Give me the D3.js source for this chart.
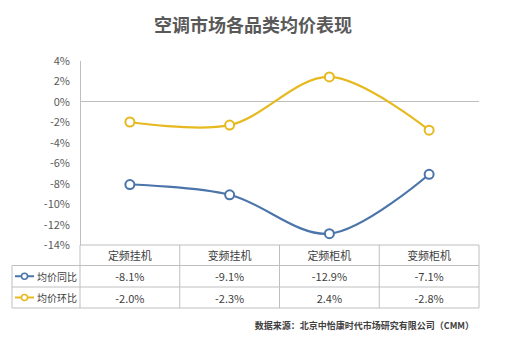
<!DOCTYPE html>
<html><head><meta charset="utf-8">
<script src="https://cdn.jsdelivr.net/npm/d3@7"></script>
<style>body{margin:0;background:#fff}svg{display:block}</style>
</head><body>
<svg id="c" width="506" height="338"></svg>
<script>
const categories = ["定频挂机","变频挂机","定频柜机","变频柜机"];
const seriesNames = ["均价同比","均价环比"];
const yoy = [-8.1,-9.1,-12.9,-7.1];
const mom = [-2.0,-2.3,2.4,-2.8];
const yTicks = [4,2,0,-2,-4,-6,-8,-10,-12,-14];
const colors = ["#4a74aa","#e6b91e"];
const title = "空调市场各品类均价表现";
const source = "数据来源：北京中怡康时代市场研究有限公司（CMM）";

const svg = d3.select("#c");
const font = "'Noto Sans CJK SC','Microsoft YaHei',sans-serif";
const L = 80, R = 479, T = 60.5, B = 245;
const x = d3.scaleBand().domain(categories).range([L,R]);
const y = d3.scaleLinear().domain([-14,4]).range([B,T]);

svg.append("text").attr("x",253).attr("y",32).attr("text-anchor","middle")
  .attr("font-family",font).attr("font-weight","bold").attr("font-size",18)
  .attr("fill","#595959").text(title);

// y axis
const ya = svg.append("g").attr("transform",`translate(${L},0)`)
  .call(d3.axisLeft(y).tickValues(yTicks).tickSize(0).tickPadding(10).tickFormat(d=>d+"%"));
ya.select(".domain").attr("stroke","#bfbfbf").attr("stroke-width",1);
ya.selectAll("text").attr("font-family",font).attr("font-size",11).attr("fill","#595959");

// zero line
svg.append("line").attr("x1",L).attr("x2",R).attr("y1",y(0)).attr("y2",y(0))
  .attr("stroke","#bfbfbf").attr("stroke-width",1);

// table
const rowY = [B, 265.5, 287, 308];
const tLeft = 12;
const tg = svg.append("g").attr("stroke","#bfbfbf").attr("stroke-width",1).attr("fill","none");
tg.append("line").attr("x1",L).attr("x2",R).attr("y1",rowY[0]).attr("y2",rowY[0]);
for (let i=1;i<rowY.length;i++) tg.append("line").attr("x1",tLeft).attr("x2",R).attr("y1",rowY[i]).attr("y2",rowY[i]);
tg.append("line").attr("x1",tLeft).attr("x2",tLeft).attr("y1",rowY[1]).attr("y2",rowY[3]);
categories.forEach((c,i)=>{
  tg.append("line").attr("x1",x(c)).attr("x2",x(c)).attr("y1",rowY[0]).attr("y2",rowY[3]);
});
tg.append("line").attr("x1",R).attr("x2",R).attr("y1",rowY[0]).attr("y2",rowY[3]);

const txt = (xx,yy,t,anchor="middle",fs=11)=>svg.append("text").attr("x",xx).attr("y",yy)
  .attr("text-anchor",anchor).attr("dominant-baseline","central")
  .attr("font-family",font).attr("font-size",fs).attr("fill","#404040").text(t);

categories.forEach(c=>txt(x(c)+x.bandwidth()/2,(rowY[0]+rowY[1])/2,c));
[yoy,mom].forEach((s,si)=>{
  const cy = (rowY[si+1]+rowY[si+2])/2;
  s.forEach((v,i)=>txt(x(categories[i])+x.bandwidth()/2,cy,v.toFixed(1)+"%"));
  svg.append("line").attr("x1",15).attr("x2",34).attr("y1",cy).attr("y2",cy)
    .attr("stroke",colors[si]).attr("stroke-width",2);
  svg.append("circle").attr("cx",24.5).attr("cy",cy).attr("r",3).attr("fill","#fff")
    .attr("stroke",colors[si]).attr("stroke-width",1.5);
  txt(37,cy,seriesNames[si],"start",10);
});

// lines
const line = d3.line().x((d,i)=>x(categories[i])+x.bandwidth()/2).y(d=>y(d))
  .curve(d3.curveCatmullRom.alpha(0.5));
[yoy,mom].forEach((s,si)=>{
  svg.append("path").attr("d",line(s)).attr("fill","none")
    .attr("stroke",colors[si]).attr("stroke-width",2.2);
  svg.selectAll(null).data(s).enter().append("circle")
    .attr("cx",(d,i)=>x(categories[i])+x.bandwidth()/2).attr("cy",d=>y(d))
    .attr("r",4.5).attr("fill","#fff").attr("stroke",colors[si]).attr("stroke-width",2);
});

svg.append("text").attr("x",474).attr("y",325).attr("text-anchor","end")
  .attr("dominant-baseline","central").attr("font-family",font).attr("font-weight","bold")
  .attr("font-size",9).attr("fill","#404040").text(source);
</script>
</body></html>
